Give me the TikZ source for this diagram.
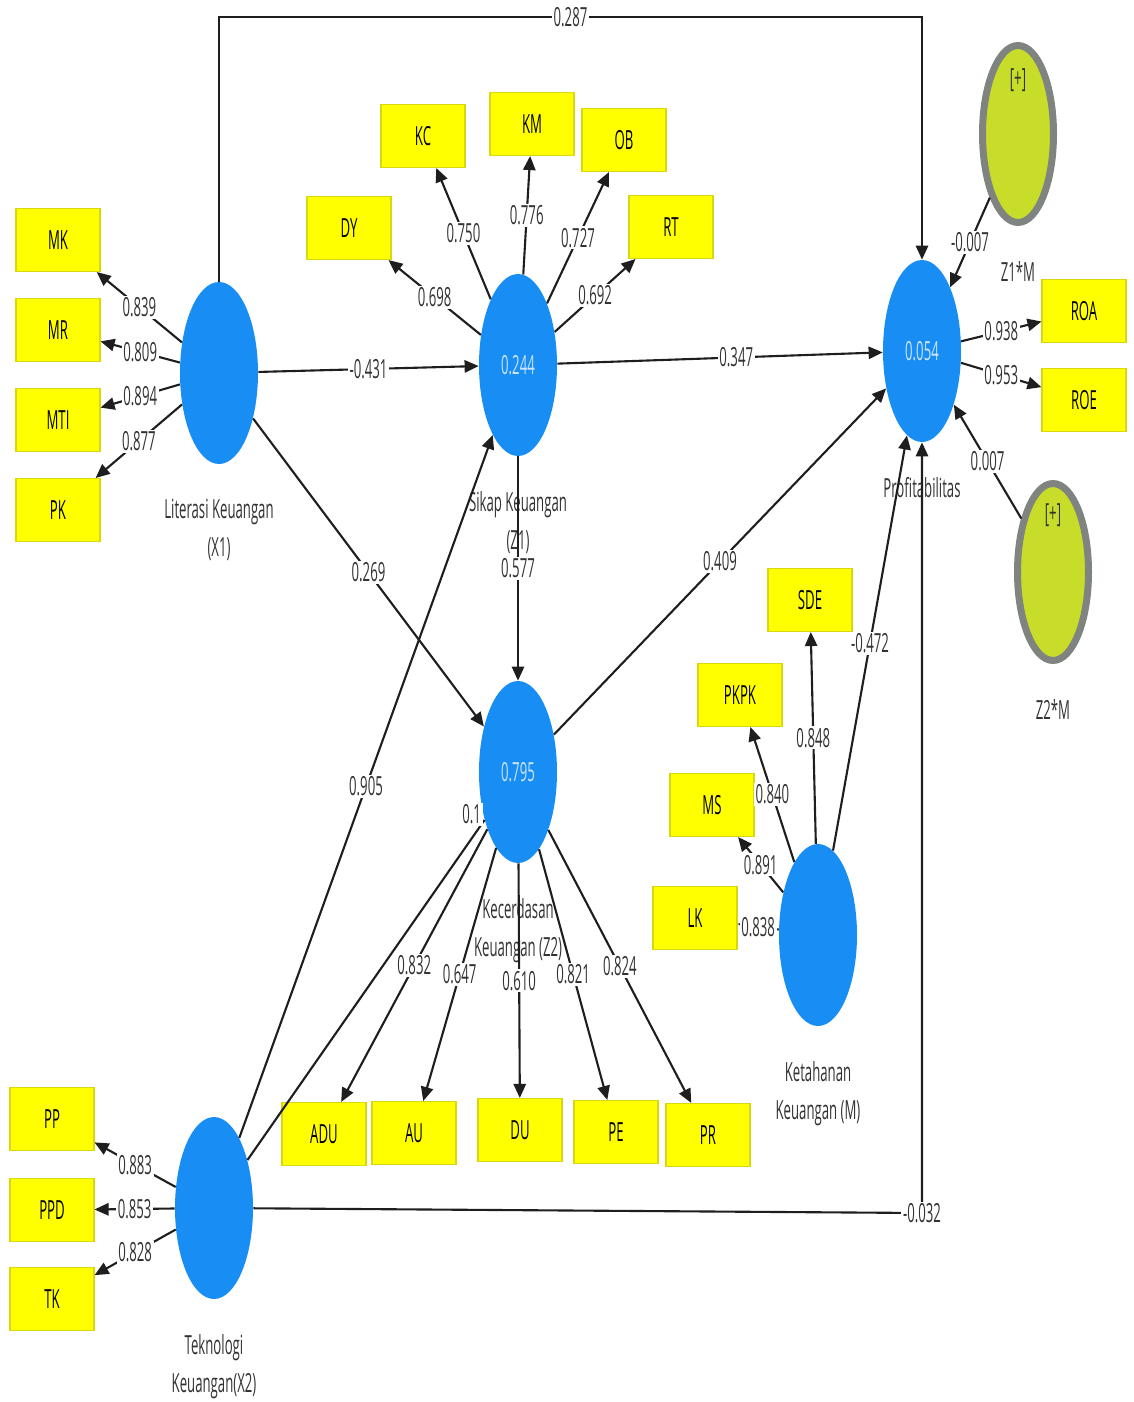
\documentclass[tikz,border=0pt]{standalone}
\usepackage{fontspec}
\setmainfont{Open Sans}[FakeStretch=0.5]
\usetikzlibrary{arrows.meta,shapes.geometric}

\definecolor{lvblue}{RGB}{24,142,244}
\definecolor{lvtext}{RGB}{205,228,255}
\definecolor{indyellow}{RGB}{255,255,0}
\definecolor{indedge}{RGB}{215,215,20}
\definecolor{modfill}{RGB}{200,221,42}
\definecolor{modedge}{RGB}{128,132,128}
\definecolor{linkgray}{RGB}{30,30,30}
\definecolor{coefgray}{RGB}{50,50,50}

\newcommand{\lvfont}{\fontsize{15}{21.5}\selectfont}

\tikzset{
  latent/.style={ellipse, fill=lvblue, inner sep=0pt, minimum width=1.56cm,
    minimum height=3.64cm, text=lvtext, font=\lvfont},
  moderator/.style={ellipse, fill=modfill, draw=modedge, line width=0.14cm,
    inner sep=0pt, minimum width=1.42cm, minimum height=3.54cm},
  indicator/.style={rectangle, fill=indyellow, draw=indedge, line width=0.6pt,
    minimum width=1.68cm, minimum height=1.26cm, inner sep=0pt, text=black,
    font=\lvfont},
  coef/.style={fill=white, inner sep=1pt, text=coefgray, font=\lvfont},
  lvname/.style={align=center, text=coefgray, font=\lvfont, label distance=0.58cm},
  link/.style={draw=linkgray, line width=1.2pt, -{Triangle[length=8pt,width=7pt]}},
}

\begin{document}
\begin{tikzpicture}[x=0.02cm,y=-0.02cm]
  \useasboundingbox (0,0) rectangle (1133,1402);

  % Latent variables
  \node[latent, label={[lvname]below:Literasi Keuangan\\(X1)}] (x1) at (219,373) {};
  \node[latent, label={[lvname]below:Sikap Keuangan\\(Z1)}] (z1) at (518,365) {0.244};
  \node[latent, label={[lvname]below:Kecerdasan\\Keuangan (Z2)}] (z2) at (518,772) {0.795};
  \node[latent, label={[lvname]below:Profitabilitas}] (y) at (922,351) {0.054};
  \node[latent, label={[lvname]below:Ketahanan\\Keuangan (M)}] (m) at (818,935) {};
  \node[latent, label={[lvname]below:Teknologi\\Keuangan(X2)}] (x2) at (214,1208) {};

  % Interaction terms
  \node[moderator, label={[lvname]below:Z1*M}] (z1m) at (1018,134) {};
  \node[moderator, label={[lvname]below:Z2*M}] (z2m) at (1053,572) {};
  \node[font=\lvfont, text=coefgray] (z1mplus) at (1018,80) {[+]};
  \node[font=\lvfont, text=coefgray] (z2mplus) at (1053,515) {[+]};

  % Indicators
  \node[indicator] (mk) at (58,240) {MK};
  \node[indicator] (mr) at (58,330) {MR};
  \node[indicator] (mti) at (58,420) {MTI};
  \node[indicator] (pk) at (58,510) {PK};

  \node[indicator] (dy) at (349,228) {DY};
  \node[indicator] (kc) at (423,136) {KC};
  \node[indicator] (km) at (532,124) {KM};
  \node[indicator] (ob) at (624,140) {OB};
  \node[indicator] (rt) at (671,227) {RT};

  \node[indicator] (roa) at (1084,311) {ROA};
  \node[indicator] (roe) at (1084,400) {ROE};

  \node[indicator] (adu) at (324,1134) {ADU};
  \node[indicator] (au) at (414,1133) {AU};
  \node[indicator] (du) at (520,1130) {DU};
  \node[indicator] (pe) at (616,1132) {PE};
  \node[indicator] (pr) at (708,1135) {PR};

  \node[indicator] (sde) at (810,600) {SDE};
  \node[indicator] (pkpk) at (740,695) {PKPK};
  \node[indicator] (ms) at (712,805) {MS};
  \node[indicator] (lk) at (695,918) {LK};

  \node[indicator] (pp) at (52,1119) {PP};
  \node[indicator] (ppd) at (52,1210) {PPD};
  \node[indicator] (tk) at (52,1299) {TK};

  % Outer loadings
  \draw[link] (x1) -- node[coef] {0.839} (mk);
  \draw[link] (x1) -- node[coef] {0.809} (mr);
  \draw[link] (x1) -- node[coef] {0.894} (mti);
  \draw[link] (x1) -- node[coef] {0.877} (pk);

  \draw[link] (z1) -- node[coef] {0.698} (dy);
  \draw[link] (z1) -- node[coef] {0.750} (kc);
  \draw[link] (z1) -- node[coef] {0.776} (km);
  \draw[link] (z1) -- node[coef] {0.727} (ob);
  \draw[link] (z1) -- node[coef] {0.692} (rt);

  \draw[link] (y) -- node[coef] {0.938} (roa);
  \draw[link] (y) -- node[coef] {0.953} (roe);

  \draw[link] (z2) -- node[coef] {0.832} (adu);
  \draw[link] (z2) -- node[coef] {0.647} (au);
  \draw[link] (z2) -- node[coef] {0.610} (du);
  \draw[link] (z2) -- node[coef] {0.821} (pe);
  \draw[link] (z2) -- node[coef] {0.824} (pr);

  \draw[link] (m) -- node[coef] {0.848} (sde);
  \draw[link] (m) -- node[coef] {0.840} (pkpk);
  \draw[link] (m) -- node[coef] {0.891} (ms);
  \draw[link] (m) -- node[coef] {0.838} (lk);

  \draw[link] (x2) -- node[coef] {0.883} (pp);
  \draw[link] (x2) -- node[coef] {0.853} (ppd);
  \draw[link] (x2) -- node[coef] {0.828} (tk);

  % Paths
  \draw[link] (x1) -- node[coef] {-0.431} (z1);
  \draw[link] (x1) -- node[coef] {0.269} (z2);
  \draw[link] (z1) -- node[coef] {0.577} (z2);
  \draw[link] (z1) -- node[coef, pos=0.55] {0.347} (y);
  \draw[link] (z2) -- node[coef] {0.409} (y);
  \draw[link] (x2) -- node[coef] {0.905} (z1);
  \draw[link, -] (x2) -- (z2);
  \node[coef, anchor=east] (x2z2) at (483,814) {0.1};
  \draw[link] (m) -- node[coef] {-0.472} (y);
  \draw[link] (z1m) -- node[coef] {-0.007} (y);
  \draw[link] (z2m) -- node[coef] {0.007} (y);

  % Direct effects round the outside
  \coordinate (tl) at (219,17);
  \coordinate (tr) at (922,17);
  \draw[link] (x1) -- (tl) -- node[coef] {0.287} (tr) -- (y);
  \coordinate (br) at (922,1213);
  \draw[link] (x2) -- (br) -- (y);
  \node[coef] (c032) at (br) {-0.032};
\end{tikzpicture}
\end{document}
